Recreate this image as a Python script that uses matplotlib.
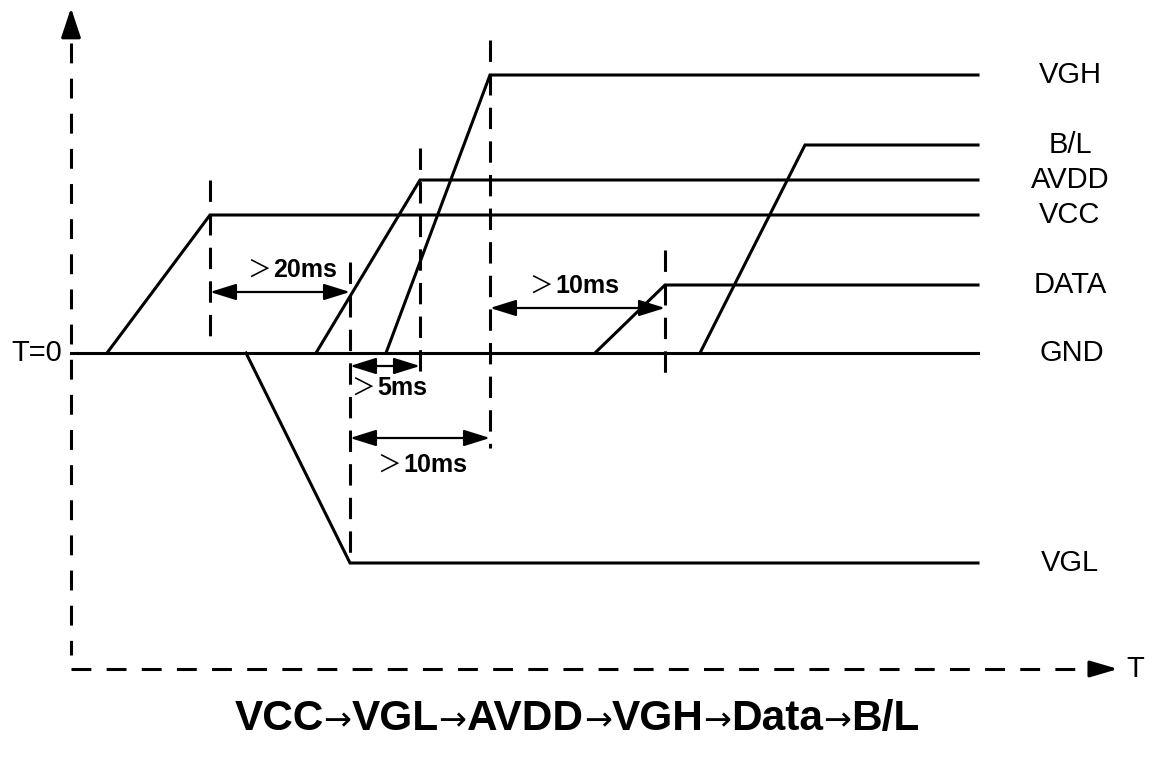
import matplotlib.pyplot as plt
from matplotlib.offsetbox import TextArea, HPacker, AnnotationBbox

# === Power-on sequence data (time units, level units; GND = 0) ===
signals = ["VGH", "B/L", "AVDD", "VCC", "DATA", "VGL"]
levels = [278, 208, 173, 138, 68, -210]
edge_start = [315, 629, 245, 36, 524, 175]   # where the edge leaves GND
edge_end = [419, 734, 349, 139, 594, 279]    # where the edge reaches its level
t_end = 907

# dashed timing markers: time, top, bottom
mark_t = [139, 279, 349, 419, 594]
mark_top = [173, 91, 205, 313, 103]
mark_bot = [10, -210, -25, -95, -27]

# timing spans: start, end, height, label
span_t0 = [139, 279, 279, 419]
span_t1 = [279, 349, 419, 594]
span_y = [61, -13, -85, 45]
span_txt = ["20ms", "5ms", "10ms", "10ms"]
span_lab_t = [200, 304, 330, 482]
span_lab_y = [76, -42, -119, 60]

sequence = ["VCC", "VGL", "AVDD", "VGH", "Data", "B/L"]

t_axis_y = -316
y_axis_top = 345
t_axis_end = 1047

# === Plot ===
fig = plt.figure(figsize=(11.54, 7.6), dpi=100)
ax = fig.add_axes([0, 0, 1, 1])
ax.set_xlim(-71, 1083)
ax.set_ylim(-407, 353)
ax.axis("off")

lw = 2.2
label_font = dict(fontsize=21, family="Liberation Sans", color="black")

# axes (dashed) with arrow heads
ax.plot([0, 0], [y_axis_top - 35, t_axis_y + 14], color="black", lw=lw,
        linestyle=(0, (6.5, 5)))
ax.annotate("", xy=(0, y_axis_top), xytext=(0, y_axis_top - 24),
            arrowprops=dict(arrowstyle="-|>,head_length=0.9,head_width=0.3",
                            mutation_scale=20, color="black", lw=lw,
                            shrinkA=0, shrinkB=0))
ax.plot([0, t_axis_end - 22], [t_axis_y, t_axis_y], color="black", lw=lw,
        linestyle=(0, (6.5, 5)))
ax.annotate("", xy=(t_axis_end, t_axis_y), xytext=(t_axis_end - 21, t_axis_y),
            arrowprops=dict(arrowstyle="-|>,head_length=0.85,head_width=0.25",
                            mutation_scale=20, color="black", lw=lw,
                            shrinkA=0, shrinkB=0))
ax.text(t_axis_end + 17, t_axis_y, "T", ha="center", va="center", **label_font)

# GND line
ax.plot([0, t_end], [0, 0], color="black", lw=lw)
ax.text(-9, 0, "T=0", ha="right", va="center", **label_font)
ax.text(1001, 0, "GND", ha="center", va="center", **label_font)

# signal waveforms
for name, lev, t0, t1 in zip(signals, levels, edge_start, edge_end):
    ax.plot([t0, t1, t_end], [0, lev, lev], color="black", lw=lw,
            solid_joinstyle="miter")
    ax.text(999, lev, name, ha="center", va="center", **label_font)

# dashed markers (drawn top-down so the dash pattern starts at the top)
for t, top, bot in zip(mark_t, mark_top, mark_bot):
    ax.plot([t, t], [top, bot], color="black", lw=lw, linestyle=(0, (7, 4)))

# timing spans
for t0, t1, y, txt, lt, ly in zip(span_t0, span_t1, span_y, span_txt,
                                   span_lab_t, span_lab_y):
    ax.annotate("", xy=(t1, y), xytext=(t0, y),
                arrowprops=dict(arrowstyle="<|-|>,head_length=0.8,head_width=0.25",
                                mutation_scale=20, color="black", lw=1.6,
                                shrinkA=0, shrinkB=0))
    ax.text(lt, ly, "\uff1e", ha="right", va="baseline", fontsize=17,
            family="Noto Sans CJK SC", color="black")
    ax.text(lt + 2, ly, txt, ha="left", va="baseline", fontsize=18,
            fontweight="bold", family="Liberation Sans", color="black")

# sequence caption
parts = []
for i, s in enumerate(sequence):
    if i:
        parts.append(TextArea("\u2192", textprops=dict(fontsize=24,
                                                       family="DejaVu Sans")))
    parts.append(TextArea(s, textprops=dict(fontsize=30.5, fontweight="bold",
                                            family="Liberation Sans")))
box = HPacker(children=parts, align="baseline", pad=0, sep=0)
ab = AnnotationBbox(box, (506, -366), xycoords="data", frameon=False,
                    box_alignment=(0.5, 0.5))
ax.add_artist(ab)

fig.savefig("out.png", dpi=100)
